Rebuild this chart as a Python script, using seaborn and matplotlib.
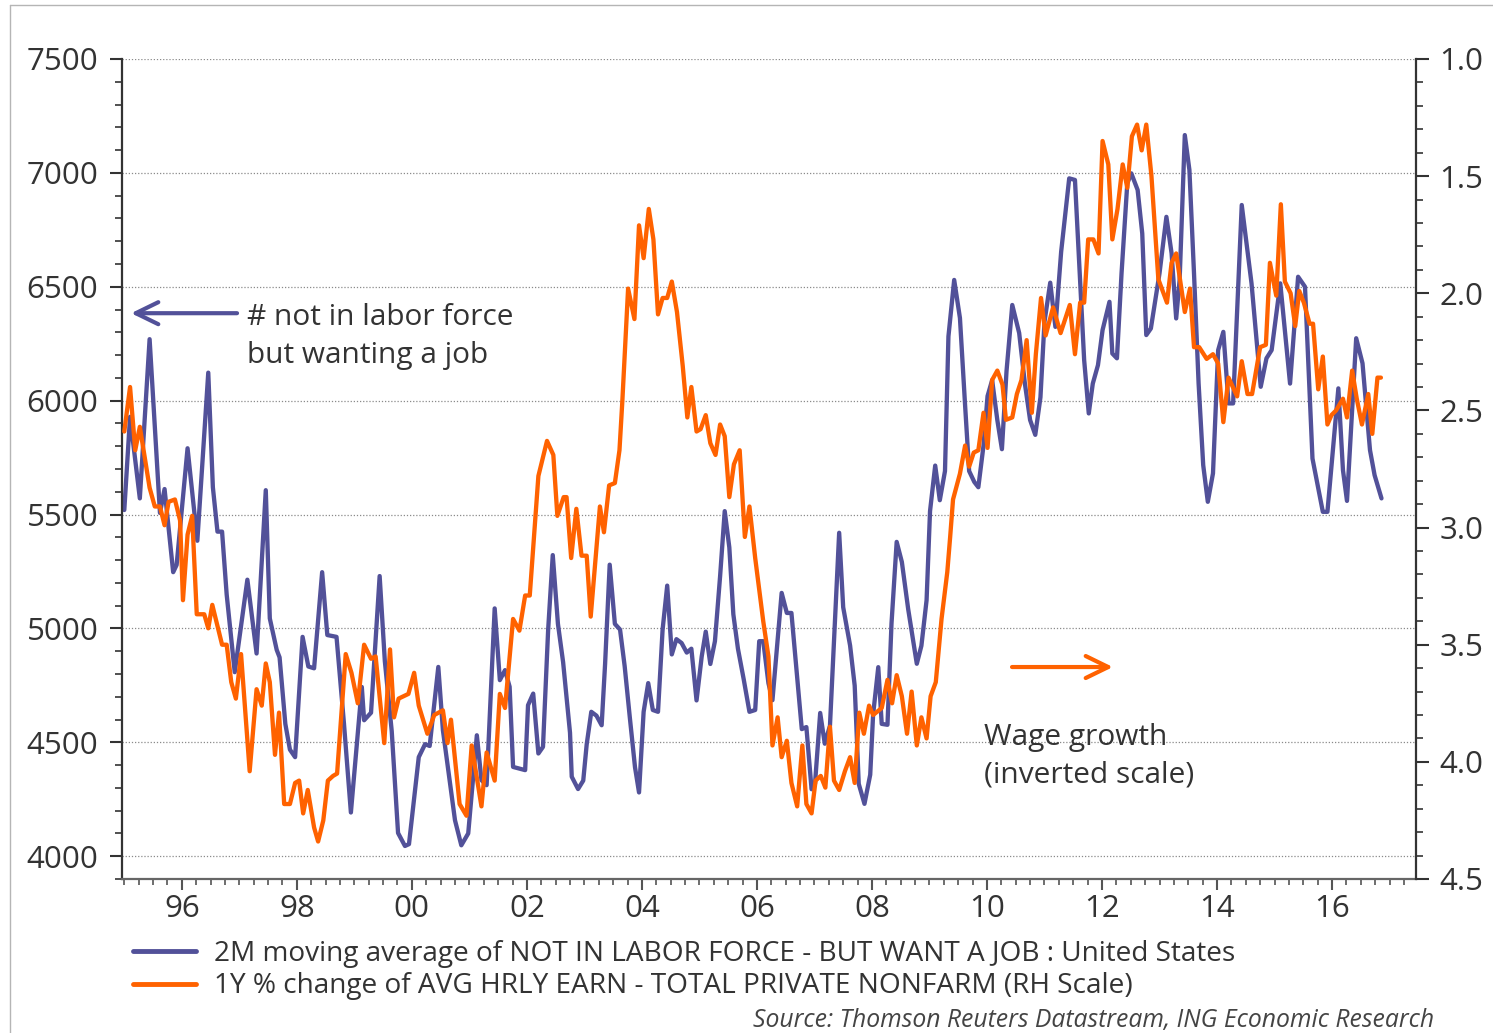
import matplotlib
matplotlib.use("Agg")
import matplotlib.pyplot as plt
from matplotlib.ticker import MultipleLocator, FixedLocator, FormatStrFormatter
from matplotlib.lines import Line2D
import seaborn as sns

# --- data --------------------------------------------------------------
# 2M moving average of NOT IN LABOR FORCE - BUT WANT A JOB (thousands, LH)
nilf_year = [1995.00, 1995.10, 1995.27, 1995.44, 1995.59, 1995.62, 1995.70, 1995.85, 1995.91,
             1996.10, 1996.27, 1996.46, 1996.54, 1996.62, 1996.70, 1996.78, 1996.92,
             1997.14, 1997.30, 1997.46, 1997.53, 1997.65, 1997.70, 1997.80, 1997.88, 1997.97,
             1998.10, 1998.20, 1998.30, 1998.44, 1998.53, 1998.69, 1998.82, 1998.94,
             1999.13, 1999.17, 1999.29, 1999.44, 1999.53, 1999.65, 1999.76, 1999.88, 1999.95,
             2000.12, 2000.23, 2000.31, 2000.46, 2000.54, 2000.75, 2000.86, 2000.98,
             2001.13, 2001.21, 2001.30, 2001.44, 2001.53, 2001.62, 2001.70, 2001.76, 2001.97,
             2002.02, 2002.11, 2002.20, 2002.28, 2002.37, 2002.45, 2002.54, 2002.63, 2002.75,
             2002.78, 2002.89, 2002.98,
             2003.04, 2003.12, 2003.21, 2003.30, 2003.36, 2003.44, 2003.53, 2003.62, 2003.70,
             2003.79, 2003.88, 2003.95,
             2004.03, 2004.11, 2004.19, 2004.28, 2004.36, 2004.44, 2004.52, 2004.60, 2004.69,
             2004.78, 2004.86, 2004.95,
             2005.04, 2005.11, 2005.19, 2005.27, 2005.36, 2005.44, 2005.52, 2005.59, 2005.67,
             2005.77, 2005.87, 2005.97,
             2006.04, 2006.11, 2006.20, 2006.27, 2006.43, 2006.52, 2006.60, 2006.78, 2006.86, 2006.95,
             2007.01, 2007.10, 2007.18, 2007.27, 2007.43, 2007.50, 2007.62, 2007.70, 2007.77,
             2007.87, 2007.97,
             2008.02, 2008.11, 2008.17, 2008.27, 2008.34, 2008.43, 2008.52, 2008.63, 2008.78,
             2008.86, 2008.95,
             2009.01, 2009.10, 2009.18, 2009.27, 2009.33, 2009.43, 2009.53, 2009.62, 2009.69,
             2009.78, 2009.85, 2009.94,
             2010.01, 2010.09, 2010.18, 2010.26, 2010.34, 2010.44, 2010.56, 2010.66, 2010.75,
             2010.84, 2010.93,
             2011.00, 2011.10, 2011.19, 2011.29, 2011.43, 2011.53, 2011.69, 2011.77, 2011.84, 2011.93,
             2012.01, 2012.13, 2012.18, 2012.26, 2012.34, 2012.44, 2012.51, 2012.62, 2012.70,
             2012.77, 2012.85,
             2013.00, 2013.12, 2013.21, 2013.29, 2013.35, 2013.44, 2013.52, 2013.60, 2013.68,
             2013.76, 2013.84, 2013.93,
             2014.02, 2014.11, 2014.20, 2014.28, 2014.43, 2014.60, 2014.76, 2014.86, 2014.95,
             2015.10, 2015.18, 2015.27, 2015.41, 2015.53, 2015.66, 2015.84, 2015.92,
             2016.11, 2016.19, 2016.26, 2016.42, 2016.53, 2016.66, 2016.74, 2016.86]
nilf_value = [5520, 5929, 5571, 6270, 5636, 5507, 5612, 5247, 5279,
              5791, 5385, 6123, 5620, 5425, 5425, 5149, 4808,
              5214, 4890, 5607, 5044, 4906, 4873, 4581, 4468, 4435,
              4963, 4833, 4825, 5247, 4971, 4963, 4581, 4192,
              4743, 4597, 4630, 5230, 4857, 4549, 4102, 4045, 4053,
              4435, 4492, 4484, 4831, 4553, 4158, 4048, 4100,
              4531, 4334, 4312, 5088, 4773, 4817, 4744, 4392, 4378,
              4663, 4714, 4451, 4480, 4995, 5322, 5020, 4852, 4542,
              4349, 4295, 4332,
              4491, 4634, 4617, 4575, 4844, 5280, 5020, 4995, 4835,
              4609, 4391, 4280,
              4634, 4760, 4642, 4634, 4995, 5188, 4886, 4953, 4936,
              4894, 4911, 4684,
              4877, 4986, 4844, 4944, 5230, 5515, 5356, 5062, 4911,
              4777, 4634, 4642,
              4944, 4944, 4760, 4685, 5156, 5068, 5068, 4558, 4567, 4294,
              4318, 4629, 4494, 4573, 5420, 5093, 4925, 4749, 4318,
              4230, 4358,
              4621, 4830, 4581, 4577, 5021, 5380, 5292, 5085, 4845,
              4924, 5124,
              5515, 5715, 5563, 5691, 6282, 6530, 6363, 5978, 5691,
              5643, 5620, 5803,
              6020, 6090, 5915, 5787, 6130, 6420, 6297, 6074, 5915,
              5850, 6015,
              6346, 6518, 6324, 6654, 6976, 6969, 6178, 5944, 6075, 6156,
              6310, 6434, 6207, 6186, 6559, 6954, 6998, 6925, 6734,
              6288, 6317,
              6559, 6807, 6647, 6361, 6530, 7166, 7013, 6559, 6075,
              5717, 5556, 5681,
              6222, 6302, 5988, 5988, 6859, 6515, 6061, 6186, 6222,
              6515, 6310, 6075, 6544, 6500, 5746, 5512, 5512,
              6054, 5695, 5560, 6274, 6164, 5783, 5673, 5571]

# 1Y % change of AVG HRLY EARN - TOTAL PRIVATE NONFARM (RH, inverted)
wage_year = [1995.00, 1995.10, 1995.19, 1995.27, 1995.44, 1995.53, 1995.62, 1995.70, 1995.77,
             1995.88, 1995.97,
             1996.02, 1996.10, 1996.18, 1996.26, 1996.39, 1996.46, 1996.53, 1996.70, 1996.78,
             1996.86, 1996.94,
             1997.03, 1997.18, 1997.30, 1997.39, 1997.46, 1997.53, 1997.62, 1997.69, 1997.78,
             1997.88, 1997.97,
             1998.04, 1998.11, 1998.19, 1998.30, 1998.37, 1998.46, 1998.54, 1998.63, 1998.70,
             1998.85, 1998.95,
             1999.06, 1999.17, 1999.29, 1999.37, 1999.52, 1999.62, 1999.69, 1999.77, 1999.94,
             2000.04, 2000.12, 2000.27, 2000.39, 2000.54, 2000.62, 2000.68, 2000.83, 2000.95,
             2001.04, 2001.21, 2001.30, 2001.44, 2001.53, 2001.62, 2001.76, 2001.87, 2001.97,
             2002.05, 2002.20, 2002.35, 2002.46, 2002.53, 2002.64, 2002.69, 2002.77, 2002.86,
             2002.95,
             2003.04, 2003.11, 2003.27, 2003.34, 2003.43, 2003.53, 2003.61, 2003.66, 2003.76,
             2003.87, 2003.95,
             2004.03, 2004.12, 2004.20, 2004.28, 2004.36, 2004.44, 2004.52, 2004.61, 2004.71,
             2004.79, 2004.86, 2004.95,
             2005.02, 2005.11, 2005.19, 2005.28, 2005.36, 2005.44, 2005.52, 2005.60, 2005.70,
             2005.79, 2005.87, 2005.97,
             2006.11, 2006.20, 2006.27, 2006.36, 2006.43, 2006.52, 2006.60, 2006.70, 2006.79,
             2006.86, 2006.95,
             2007.02, 2007.11, 2007.19, 2007.27, 2007.34, 2007.43, 2007.53, 2007.62, 2007.70,
             2007.78, 2007.86, 2007.95,
             2008.02, 2008.17, 2008.27, 2008.35, 2008.43, 2008.52, 2008.61, 2008.69, 2008.78,
             2008.86, 2008.95,
             2009.02, 2009.11, 2009.21, 2009.31, 2009.36, 2009.41, 2009.53, 2009.62, 2009.69,
             2009.77, 2009.85, 2009.94,
             2010.01, 2010.09, 2010.18, 2010.27, 2010.33, 2010.44, 2010.52, 2010.60, 2010.69,
             2010.78, 2010.85, 2010.94,
             2011.02, 2011.15, 2011.28, 2011.44, 2011.53, 2011.62, 2011.69, 2011.76, 2011.85,
             2011.94,
             2012.01, 2012.11, 2012.18, 2012.27, 2012.36, 2012.44, 2012.52, 2012.61, 2012.69,
             2012.77, 2012.86, 2012.98,
             2013.13, 2013.21, 2013.29, 2013.44, 2013.53, 2013.60, 2013.69, 2013.82, 2013.93,
             2014.02, 2014.11, 2014.20, 2014.35, 2014.43, 2014.53, 2014.61, 2014.75, 2014.85,
             2014.92,
             2015.03, 2015.11, 2015.18, 2015.28, 2015.36, 2015.43, 2015.51, 2015.61, 2015.67,
             2015.76, 2015.84, 2015.92, 2015.99,
             2016.07, 2016.19, 2016.26, 2016.35, 2016.43, 2016.52, 2016.63, 2016.70, 2016.79,
             2016.85]
wage_value = [2.59, 2.40, 2.67, 2.57, 2.83, 2.91, 2.91, 2.99, 2.89,
              2.88, 2.97,
              3.31, 3.03, 2.95, 3.37, 3.37, 3.43, 3.33, 3.50, 3.50,
              3.66, 3.73,
              3.54, 4.04, 3.69, 3.76, 3.58, 3.66, 3.97, 3.79, 4.18,
              4.18, 4.09,
              4.08, 4.22, 4.12, 4.28, 4.34, 4.25, 4.08, 4.06, 4.05,
              3.54, 3.62,
              3.75, 3.50, 3.56, 3.55, 3.92, 3.52, 3.81, 3.73, 3.71,
              3.62, 3.76, 3.88, 3.80, 3.78, 3.92, 3.82, 4.18, 4.23,
              3.93, 4.19, 3.96, 4.08, 3.71, 3.77, 3.39, 3.44, 3.29,
              3.29, 2.78, 2.63, 2.69, 2.95, 2.87, 2.87, 3.13, 2.92,
              3.12,
              3.12, 3.38, 2.91, 3.02, 2.82, 2.81, 2.67, 2.46, 1.98,
              2.11, 1.71,
              1.85, 1.64, 1.77, 2.09, 2.02, 2.02, 1.95, 2.08, 2.31,
              2.53, 2.40, 2.59,
              2.58, 2.52, 2.64, 2.69, 2.56, 2.61, 2.87, 2.73, 2.67,
              3.04, 2.91, 3.13,
              3.40, 3.55, 3.93, 3.81, 3.98, 3.91, 4.09, 4.19, 3.93,
              4.18, 4.22,
              4.08, 4.06, 4.11, 3.85, 4.08, 4.12, 4.04, 3.98, 4.09,
              3.79, 3.88, 3.76,
              3.80, 3.77, 3.65, 3.75, 3.63, 3.72, 3.88, 3.70, 3.93,
              3.81, 3.90,
              3.72, 3.66, 3.39, 3.19, 3.04, 2.88, 2.77, 2.65, 2.74,
              2.68, 2.67, 2.51,
              2.66, 2.37, 2.33, 2.39, 2.54, 2.53, 2.43, 2.37, 2.20,
              2.51, 2.26, 2.02,
              2.18, 2.06, 2.17, 2.05, 2.26, 2.04, 2.04, 1.77, 1.77,
              1.83,
              1.35, 1.45, 1.77, 1.64, 1.45, 1.55, 1.33, 1.28, 1.39,
              1.28, 1.50, 1.94,
              2.04, 1.87, 1.83, 2.08, 1.98, 2.23, 2.23, 2.28, 2.26,
              2.30, 2.55, 2.36, 2.44, 2.29, 2.43, 2.43, 2.23, 2.22,
              1.87,
              2.01, 1.62, 1.95, 2.00, 2.14, 1.99, 2.04, 2.13, 2.13,
              2.41, 2.27, 2.56, 2.52,
              2.50, 2.45, 2.53, 2.33, 2.45, 2.56, 2.43, 2.60, 2.36,
              2.36]

tick_years = list(range(1996, 2017, 2))
tick_labels = [f"{y % 100:02d}" for y in tick_years]

nilf_label = "2M moving average of NOT IN LABOR FORCE - BUT WANT A JOB : United States"
wage_label = "1Y % change of AVG HRLY EARN - TOTAL PRIVATE NONFARM (RH Scale)"

BLUE = "#525199"
ORANGE = "#FF6200"
TXT = "#333333"

sns.set_style("ticks")
plt.rcParams['font.family'] = ['Open Sans', 'DejaVu Sans']

W, H = 1493, 1033
fig = plt.figure(figsize=(W / 100, H / 100), dpi=100)
ax = fig.add_axes([122 / W, 1 - 879 / H, (1416 - 122) / W, (879 - 59) / H])
ax2 = ax.twinx()

sns.lineplot(x=nilf_year, y=nilf_value, ax=ax, color=BLUE, lw=3.1, legend=False)
sns.lineplot(x=wage_year, y=wage_value, ax=ax2, color=ORANGE, lw=3.1, legend=False)

ax.set_xlim(1994.96, 2017.46)
ax.set_ylim(3900, 7500)
ax2.set_ylim(4.5, 1.0)

ax.xaxis.set_major_locator(FixedLocator(tick_years))
ax.xaxis.set_minor_locator(MultipleLocator(0.25))
ax.set_xticks(tick_years, tick_labels)
ax.yaxis.set_major_locator(FixedLocator(range(4000, 7501, 500)))
ax.yaxis.set_minor_locator(MultipleLocator(100))
ax2.yaxis.set_major_locator(MultipleLocator(0.5))
ax2.yaxis.set_minor_locator(MultipleLocator(0.1))
ax2.yaxis.set_major_formatter(FormatStrFormatter('%.1f'))

ax.set_xlabel("")
ax.set_ylabel("")
ax2.set_ylabel("")

ax.grid(axis='y', which='major', linestyle=(0, (1, 1.5)), color='#8a8a8a', lw=0.9)

for a in (ax, ax2):
    a.spines['top'].set_visible(False)
ax.spines['right'].set_visible(False)
ax2.spines['left'].set_visible(False)
ax2.spines['bottom'].set_visible(False)
ax.spines['left'].set_color(TXT)
ax.spines['left'].set_linewidth(1.6)
ax.spines['bottom'].set_color('#666666')
ax.spines['bottom'].set_linewidth(1.6)
ax2.spines['right'].set_color(TXT)
ax2.spines['right'].set_linewidth(1.6)

ax.tick_params(axis='y', which='major', direction='out', length=9, width=1.5, color=TXT,
               labelsize=22.5, labelcolor=TXT, pad=8)
ax.tick_params(axis='y', which='minor', direction='out', length=5, width=1.2, color=TXT)
ax.tick_params(axis='x', which='major', direction='out', length=8, width=1.5, color='#555555',
               labelsize=22.5, labelcolor=TXT, pad=3)
ax.tick_params(axis='x', which='minor', direction='out', length=4, width=1.2, color='#555555')
ax2.tick_params(axis='y', which='major', direction='out', length=9, width=1.5, color=TXT,
                labelsize=22.5, labelcolor=TXT, pad=8)
ax2.tick_params(axis='y', which='minor', direction='out', length=5, width=1.2, color=TXT)

# annotations
ax.annotate('', xy=(0.007, 0.690), xytext=(0.0889, 0.690), xycoords='axes fraction',
            arrowprops=dict(arrowstyle='->,head_length=0.45,head_width=0.22', color=BLUE,
                            lw=3, mutation_scale=36, shrinkA=0, shrinkB=0))
ax.text(0.0966, 0.6615, "# not in labor force\nbut wanting a job", transform=ax.transAxes,
        fontsize=21.5, color=TXT, ha='left', va='center', linespacing=1.38)

ax.annotate('', xy=(0.7658, 0.2585), xytext=(0.6878, 0.2585), xycoords='axes fraction',
            arrowprops=dict(arrowstyle='->,head_length=0.45,head_width=0.22', color=ORANGE,
                            lw=3, mutation_scale=36, shrinkA=0, shrinkB=0))
ax.text(0.6662, 0.1495, "Wage growth\n(inverted scale)", transform=ax.transAxes,
        fontsize=21.5, color=TXT, ha='left', va='center', linespacing=1.38)

handles = [Line2D([], [], color=BLUE, lw=3.5), Line2D([], [], color=ORANGE, lw=3.5)]
fig.legend(handles, [nilf_label, wage_label], loc='upper left',
           bbox_to_anchor=(133 / W, 1 - 940 / H), frameon=False, fontsize=20.2,
           handlelength=2.25, handletextpad=0.65, labelspacing=0.16, borderpad=0,
           borderaxespad=0, labelcolor=TXT)

fig.text(1434 / W, 1 - 1020 / H, "Source: Thomson Reuters Datastream, ING Economic Research",
         ha='right', va='center', style='italic', fontsize=17.8, color='#444444')

# thin frame of the original screenshot
fig.add_artist(Line2D([10 / W, 10 / W], [0, 1 - 5 / H], transform=fig.transFigure,
                      color='#b5b5b5', lw=1))
fig.add_artist(Line2D([10 / W, 1], [1 - 5 / H, 1 - 5 / H], transform=fig.transFigure,
                      color='#b5b5b5', lw=1))

fig.savefig("out.png", dpi=100)
